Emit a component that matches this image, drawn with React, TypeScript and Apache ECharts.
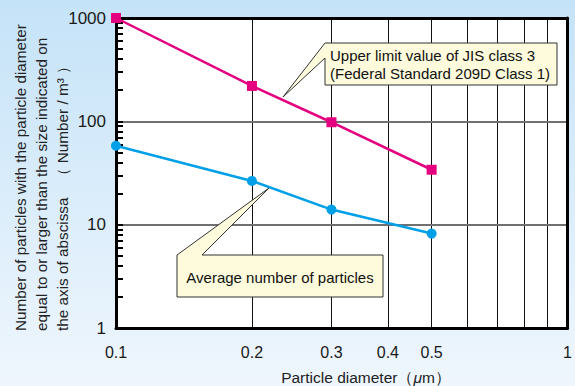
import React, { useEffect, useRef } from "react";
import * as echarts from "echarts";

const xValues = [0.1, 0.2, 0.3, 0.5];
const jisLimit = [1000, 220, 98, 34];
const averageCount = [58, 26.5, 14, 8.2];
const xLabelValues = [0.1, 0.2, 0.3, 0.4, 0.5, 1];
const xGridValues = [0.1, 0.2, 0.3, 0.4, 0.5, 0.6, 0.7, 0.8, 0.9, 1];
const yDecades = [1, 10, 100, 1000];
const yInnerDecades = [10, 100];
const yTickValues = [1, 2, 3, 4, 5, 6, 7, 8, 9, 10, 20, 30, 40, 50, 60, 70, 80, 90, 100, 200, 300, 400, 500, 600, 700, 800, 900, 1000];

const FONT = "'Liberation Sans', Arial, Helvetica, sans-serif";
const X_BASE = 0.1;
const X_MAX = 1;
const Y_MIN = 1;
const Y_MAX = 1000;
const lx = (v: number) => Math.log10(v / X_BASE);
const ly = (v: number) => Math.log10(v);

const frameLine = { show: true, onZero: false, lineStyle: { color: "#000", width: 3 } };

export default function App() {
  const ref = useRef<HTMLDivElement>(null);
  useEffect(() => {
    const chart = echarts.init(ref.current!, null, { renderer: "svg" });
    const option: any = {
      animation: false,
      backgroundColor: {
        type: "linear", x: 0, y: 0, x2: 0, y2: 1,
        colorStops: [
          { offset: 0, color: "#c5e3f8" },
          { offset: 1, color: "#eff6fd" },
        ],
      },
      textStyle: { fontFamily: FONT },
      grid: { left: 116, right: 5, top: 18, bottom: 58 },
      xAxis: [
        {
          type: "value", min: lx(X_BASE), max: lx(X_MAX), position: "bottom", z: 3,
          axisLine: frameLine,
          axisTick: { show: false, customValues: xGridValues.map(lx) },
          axisLabel: {
            customValues: xLabelValues.map(lx),
            formatter: (v: number) => String(Math.round(X_BASE * Math.pow(10, v) * 10) / 10),
            color: "#1a1a1a", fontSize: 16, margin: 16, fontFamily: FONT,
          },
          splitLine: { show: true, lineStyle: { color: "#111", width: 1 } },
        },
        {
          type: "value", min: lx(X_BASE), max: lx(X_MAX), position: "top", z: 6,
          axisLine: frameLine,
          axisTick: { show: false },
          axisLabel: { show: false },
          splitLine: { show: false },
        },
      ],
      yAxis: [
        {
          type: "value", min: ly(Y_MIN), max: ly(Y_MAX), position: "left", z: 6,
          axisLine: frameLine,
          axisTick: {
            show: true, inside: true, length: 7,
            customValues: yTickValues.map(ly),
            lineStyle: { color: "#000", width: 2 },
          },
          axisLabel: {
            customValues: yDecades.map(ly),
            formatter: (v: number) => String(Math.round(Math.pow(10, v))),
            color: "#1a1a1a", fontSize: 17, margin: 10, fontFamily: FONT,
          },
          splitLine: { show: false },
        },
        {
          type: "value", min: ly(Y_MIN), max: ly(Y_MAX), position: "right", z: 6,
          axisLine: frameLine,
          axisTick: { show: false },
          axisLabel: { show: false },
          splitLine: { show: false },
        },
      ],
      series: [
        {
          type: "line",
          data: xValues.map((x, i) => [lx(x), ly(jisLimit[i])]),
          symbol: "rect", symbolSize: 10,
          lineStyle: { color: "#e4007f", width: 2.5 },
          itemStyle: { color: "#e4007f" },
          z: 10,
          markArea: {
            silent: true, z: 1,
            itemStyle: { color: "#ffffff" },
            data: [[{ xAxis: lx(X_BASE), yAxis: ly(Y_MIN) }, { xAxis: lx(X_MAX), yAxis: ly(Y_MAX) }]],
          },
          markLine: {
            silent: true, symbol: ["none", "none"], z: 4,
            label: { show: false },
            lineStyle: { color: "#707070", width: 2, type: "solid" },
            data: yInnerDecades.map((v) => ({ yAxis: ly(v) })),
          },
        },
        {
          type: "line",
          data: xValues.map((x, i) => [lx(x), ly(averageCount[i])]),
          symbol: "circle", symbolSize: 10,
          lineStyle: { color: "#00a0e9", width: 2.5 },
          itemStyle: { color: "#00a0e9" },
          z: 10,
        },
      ],
      graphic: [
        {
          type: "polygon",
          shape: { points: [[325, 43], [557, 43], [557, 85], [325, 85], [325, 58], [283, 97]] },
          style: { fill: "#fdfbdc", stroke: "#333", lineWidth: 1 },
          z: 20,
        },
        {
          type: "text", x: 330, y: 64, z: 21,
          style: {
            text: "Upper limit value of JIS class 3\n(Federal Standard 209D Class 1)",
            font: `15px ${FONT}`, fill: "#111", textAlign: "left", textVerticalAlign: "middle", lineHeight: 18,
          },
        },
        {
          type: "polygon",
          shape: { points: [[177, 255], [269, 188], [202, 255], [383, 255], [383, 297], [177, 297]] },
          style: { fill: "#fdfbdc", stroke: "#333", lineWidth: 1 },
          z: 20,
        },
        {
          type: "text", x: 280, y: 277, z: 21,
          style: {
            text: "Average number of particles",
            font: `15px ${FONT}`, fill: "#111", textAlign: "center", textVerticalAlign: "middle",
          },
        },
        {
          type: "text", x: 41, y: 331, rotation: Math.PI / 2, z: 21,
          style: {
            text: "Number of particles with the particle diameter\nequal to or larger than the size indicated on\nthe axis of abscissa\u3000\uff08 Number / m\u00b3 \uff09",
            font: `15.3px ${FONT}`, fill: "#222", textAlign: "left", textVerticalAlign: "middle", lineHeight: 21,
          },
        },
        {
          type: "text", x: 366, y: 377, z: 21,
          style: {
            text: "{a|Particle diameter\uff08}{b|\u03bc}{a|m\uff09}",
            rich: {
              a: { font: `15.5px ${FONT}`, fill: "#222" },
              b: { font: `italic 15.5px ${FONT}`, fill: "#222" },
            },
            textAlign: "center", textVerticalAlign: "middle",
          },
        },
      ],
    };
    chart.setOption(option);
    return () => chart.dispose();
  }, []);
  return <div ref={ref} style={{ position: "fixed", left: 0, top: 0, width: 575, height: 386 }} />;
}
